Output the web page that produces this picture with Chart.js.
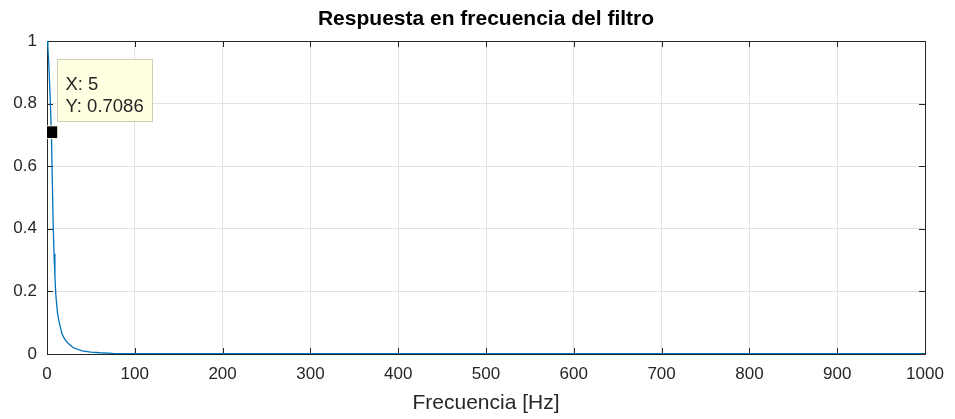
<!DOCTYPE html>
<html>
<head>
<meta charset="utf-8">
<script src="https://cdn.jsdelivr.net/npm/chart.js@4"></script>
<style>
  html, body { margin: 0; padding: 0; background: #fff; }
  #wrap { width: 955px; height: 419px; }
</style>
</head>
<body>
<div id="wrap"><canvas id="chart" width="955" height="419"></canvas></div>
<script>
// valores
var freq = [0, 1, 2, 3, 4, 5, 6, 7, 8, 9, 10, 12, 14, 17, 20, 24, 30, 40, 50, 60, 75, 100, 200, 300, 400, 500, 600, 700, 800, 900, 1000];
var mag = [1.0, 0.98, 0.93, 0.86, 0.79, 0.7086, 0.56, 0.42, 0.32, 0.25, 0.19, 0.13, 0.1, 0.065, 0.048, 0.034, 0.02, 0.01, 0.006, 0.004, 0.002, 0.001, 0.001, 0.001, 0.001, 0.001, 0.001, 0.001, 0.001, 0.001, 0.001];
var xTicks = [0, 100, 200, 300, 400, 500, 600, 700, 800, 900, 1000];
var yTicks = [0, 0.2, 0.4, 0.6, 0.8, 1];
var tipX = 5;
var tipY = 0.7086;
var titulo = 'Respuesta en frecuencia del filtro';

var axisColor = '#262626';
var gridColor = '#e2e2e2';
var fontFam = '"Liberation Sans", Arial, sans-serif';

var points = freq.map(function (f, i) { return { x: f, y: mag[i] }; });

// caja + marcas hacia adentro + titulo + datatip
var matlabBox = {
    id: 'matlabBox',
    beforeDatasetsDraw: function (chart) {
        var ctx = chart.ctx;
        var a = chart.chartArea;
        var xs = chart.scales.x, ys = chart.scales.y;
        ctx.save();
        ctx.strokeStyle = axisColor;
        ctx.lineWidth = 1;
        ctx.beginPath();
        xTicks.forEach(function (v) {
            var px = Math.round(xs.getPixelForValue(v)) + 0.5;
            ctx.moveTo(px, a.bottom); ctx.lineTo(px, a.bottom - 6);
            ctx.moveTo(px, a.top); ctx.lineTo(px, a.top + 6);
        });
        yTicks.forEach(function (v) {
            var py = Math.round(ys.getPixelForValue(v)) + 0.5;
            ctx.moveTo(a.left, py); ctx.lineTo(a.left + 6, py);
            ctx.moveTo(a.right, py); ctx.lineTo(a.right - 6, py);
        });
        ctx.stroke();
        ctx.strokeRect(Math.round(a.left) + 0.5, Math.round(a.top) + 0.5,
            Math.round(a.right - a.left), Math.round(a.bottom - a.top));

        ctx.fillStyle = '#000';
        ctx.font = 'bold 21px ' + fontFam;
        ctx.textAlign = 'center';
        ctx.textBaseline = 'middle';
        ctx.fillText(titulo, (a.left + a.right) / 2, 19);
        ctx.restore();
    },
    afterDatasetsDraw: function (chart) {
        var ctx = chart.ctx;
        var xs = chart.scales.x, ys = chart.scales.y;
        var mx = xs.getPixelForValue(tipX), my = ys.getPixelForValue(tipY);
        var bx = Math.round(mx + 6) + 0.5, by = Math.round(my - 73) + 0.5;
        ctx.save();
        ctx.fillStyle = '#ffffe1';
        ctx.strokeStyle = '#cfcfb8';
        ctx.fillRect(bx, by, 95, 62);
        ctx.strokeRect(bx, by, 95, 62);
        ctx.fillStyle = '#262626';
        ctx.font = '18.5px ' + fontFam;
        ctx.textBaseline = 'middle';
        ctx.fillText('X: ' + tipX, bx + 8, by + 25);
        ctx.fillText('Y: ' + tipY, bx + 8, by + 47);
        ctx.restore();
    }
};

new Chart(document.getElementById('chart'), {
    type: 'scatter',
    data: {
        datasets: [
            {
                data: points,
                showLine: true,
                borderColor: '#0072bd',
                borderWidth: 1.3,
                pointRadius: 0,
                tension: 0,
                order: 2
            },
            {
                data: [{ x: tipX, y: tipY }],
                pointStyle: 'rect',
                pointRadius: 9,
                backgroundColor: '#000',
                borderColor: '#ffffe1',
                borderWidth: 1,
                order: 1
            }
        ]
    },
    options: {
        responsive: false,
        animation: false,
        layout: { padding: { left: 0, right: 30, top: 41, bottom: 0 } },
        plugins: {
            legend: { display: false },
            tooltip: { enabled: false },
            title: { display: false }
        },
        scales: {
            x: {
                type: 'linear',
                min: 0,
                max: 1000,
                afterBuildTicks: function (scale) {
                    scale.ticks = xTicks.map(function (v) { return { value: v }; });
                },
                afterFit: function (scale) { scale.height = 65; },
                grid: { color: gridColor, drawTicks: false },
                border: { display: false },
                ticks: {
                    color: axisColor,
                    padding: 10,
                    maxRotation: 0,
                    font: { family: fontFam, size: 17 },
                    callback: function (v) { return String(v); }
                },
                title: {
                    display: true,
                    text: 'Frecuencia [Hz]',
                    color: axisColor,
                    font: { family: fontFam, size: 21 },
                    padding: { top: 0, bottom: 3 }
                }
            },
            y: {
                min: 0,
                max: 1,
                afterBuildTicks: function (scale) {
                    scale.ticks = yTicks.map(function (v) { return { value: v }; });
                },
                afterFit: function (scale) { scale.width = 47; },
                grid: { color: gridColor, drawTicks: false },
                border: { display: false },
                ticks: {
                    color: axisColor,
                    padding: 10,
                    font: { family: fontFam, size: 17 },
                    callback: function (v) { return String(+v.toFixed(1)); }
                }
            }
        }
    },
    plugins: [matlabBox]
});
</script>
</body>
</html>
